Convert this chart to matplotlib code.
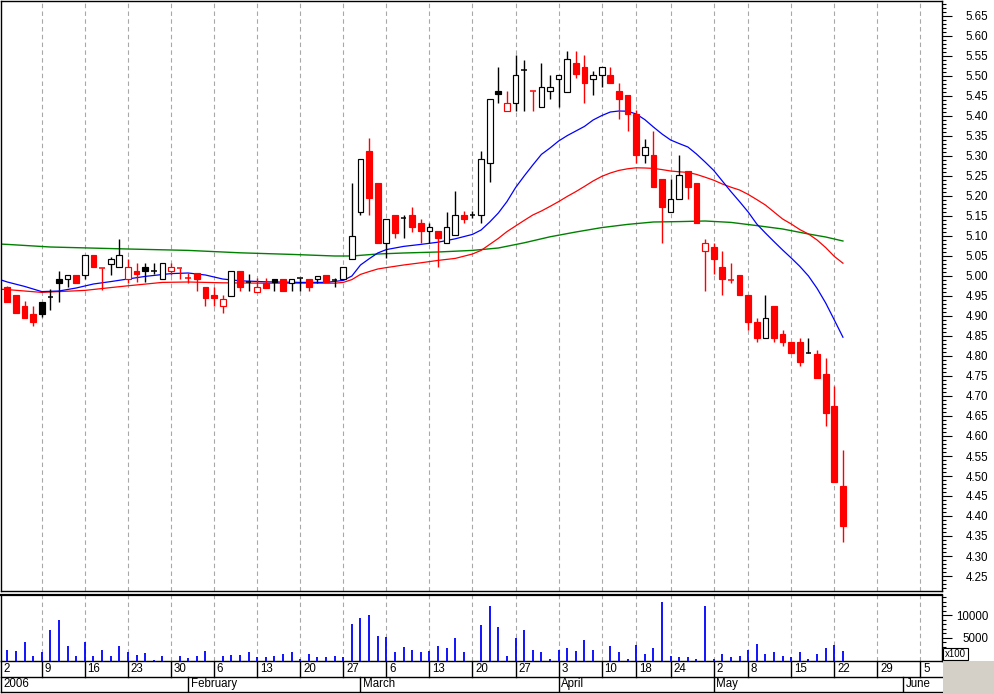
import numpy as np
import matplotlib
matplotlib.use("Agg")
import matplotlib.pyplot as plt
from matplotlib.patches import Rectangle
from matplotlib.ticker import MultipleLocator, FixedLocator, FormatStrFormatter

plt.rcParams['font.family'] = ['Liberation Sans', 'DejaVu Sans']
plt.rcParams['font.size'] = 8.3

# ---------------- data (trading-day index 0 = 3 Jan 2006 ... 97 = 23 May 2006) -------------
opens = [4.972, 4.952, 4.925, 4.905, 4.935, 4.947, 4.992, 4.992, 5.003, 5.002,
         5.053, 5.021, 5.031, 5.023, 4.992, 5.013, 5.022, 5.013, 4.992, 5.013,
         5.020, 4.994, 5.007, 4.972, 4.952, 4.925, 4.951, 5.0125, 4.986, 4.961,
         4.983, 4.992, 4.992, 4.982, 4.994, 4.992, 4.9925, 5.0025, 4.990, 4.992,
         5.042, 5.161, 5.3125, 5.233, 5.083, 5.1525, 5.144, 5.1525, 5.132, 5.112,
         5.1125, 5.083, 5.102, 5.1525, 5.1525, 5.1525, 5.282, 5.463, 5.4125, 5.433,
         5.515, 5.463, 5.422, 5.4625, 5.492, 5.461, 5.532, 5.522, 5.492, 5.502,
         5.503, 5.463, 5.4525, 5.405, 5.3025, 5.3025, 5.243, 5.161, 5.1925, 5.263,
         5.233, 5.062, 5.072, 5.022, 4.990, 5.0025, 4.9525, 4.885, 4.844, 4.925,
         4.855, 4.835, 4.835, 4.807, 4.805, 4.755, 4.675, 4.475]
highs = [4.975, 4.952, 4.937, 4.925, 4.935, 4.967, 5.013, 5.002, 5.003, 5.052,
         5.053, 5.021, 5.048, 5.092, 5.042, 5.032, 5.032, 5.032, 5.032, 5.032,
         5.020, 5.007, 5.007, 4.972, 4.972, 4.952, 5.0125, 5.0125, 5.004, 4.994,
         4.994, 4.992, 4.992, 4.992, 4.994, 4.992, 5.001, 5.0025, 4.994, 5.022,
         5.233, 5.292, 5.344, 5.233, 5.142, 5.1525, 5.1525, 5.172, 5.142, 5.132,
         5.1125, 5.161, 5.2125, 5.163, 5.163, 5.3125, 5.442, 5.523, 5.4625, 5.5525,
         5.540, 5.463, 5.533, 5.5025, 5.502, 5.563, 5.563, 5.5525, 5.5125, 5.522,
         5.522, 5.483, 5.4525, 5.415, 5.342, 5.363, 5.243, 5.243, 5.3025, 5.263,
         5.233, 5.092, 5.082, 5.062, 5.032, 5.0025, 4.9525, 4.894, 4.9525, 4.925,
         4.865, 4.835, 4.844, 4.844, 4.815, 4.794, 4.725, 4.565]
lows = [4.934, 4.907, 4.896, 4.876, 4.897, 4.915, 4.936, 4.973, 4.983, 4.992,
        5.023, 4.965, 5.002, 5.023, 4.982, 4.986, 4.984, 5.004, 4.992, 5.002,
        4.993, 4.982, 4.963, 4.925, 4.925, 4.907, 4.951, 4.963, 4.963, 4.961,
        4.971, 4.963, 4.963, 4.963, 4.963, 4.963, 4.983, 4.984, 4.973, 4.992,
        5.042, 5.1525, 5.1525, 5.083, 5.044, 5.094, 5.094, 5.111, 5.083, 5.083,
        5.023, 5.083, 5.102, 5.133, 5.144, 5.133, 5.234, 5.433, 5.4125, 5.4125,
        5.413, 5.413, 5.422, 5.4425, 5.423, 5.461, 5.494, 5.433, 5.4525, 5.473,
        5.483, 5.3925, 5.363, 5.283, 5.283, 5.223, 5.083, 5.161, 5.1925, 5.1925,
        5.133, 4.963, 5.004, 4.953, 4.983, 4.953, 4.865, 4.836, 4.844, 4.836,
        4.825, 4.807, 4.775, 4.807, 4.746, 4.625, 4.486, 4.336]
closes = [4.936, 4.907, 4.896, 4.886, 4.906, 4.947, 4.983, 5.002, 4.983, 5.052,
          5.023, 5.021, 5.042, 5.052, 5.022, 5.004, 5.013, 5.013, 5.032, 5.022,
          5.020, 4.994, 4.9925, 4.946, 4.944, 4.942, 5.0125, 4.973, 4.986, 4.972,
          4.971, 4.984, 4.963, 4.992, 4.994, 4.973, 5.001, 4.984, 4.990, 5.022,
          5.101, 5.292, 5.194, 5.083, 5.142, 5.107, 5.144, 5.123, 5.113, 5.122,
          5.094, 5.122, 5.152, 5.1425, 5.1525, 5.292, 5.442, 5.454, 5.433, 5.5025,
          5.515, 5.463, 5.472, 5.472, 5.502, 5.542, 5.504, 5.483, 5.502, 5.522,
          5.483, 5.4425, 5.404, 5.3025, 5.322, 5.223, 5.173, 5.1925, 5.2525, 5.223,
          5.133, 5.082, 5.043, 4.993, 4.990, 4.953, 4.886, 4.844, 4.894, 4.844,
          4.836, 4.807, 4.786, 4.807, 4.746, 4.657, 4.486, 4.376]
volume_x100 = [2440, 2000, 4000, 1110, 1850, 6670, 9100, 3330, 890, 4000,
               890, 2440, 1110, 3110, 1850, 1330, 1630, 220, 1000, 0,
               1000, 600, 1000, 2100, 0, 1000, 1330, 1260, 1780, 670,
               670, 890, 1550, 1780, 440, 1550, 670, 670, 890, 670,
               8000, 9550, 10200, 5550, 5330, 1780, 2890, 2440, 1780, 2220,
               3330, 2670, 4890, 1850, 0, 7780, 12000, 7550, 1110, 4950,
               6880, 2440, 1850, 440, 2290, 2670, 2220, 4660, 2440, 0,
               3110, 1850, 440, 3400, 1400, 2670, 12900, 890, 670, 670,
               440, 12200, 440, 1400, 670, 1110, 2440, 3620, 1400, 1780,
               890, 670, 1780, 440, 1400, 2670, 3550, 2220]

ma_blue_idx = [-1, 0, 2, 4, 6, 8, 10, 12, 14, 16, 19, 21, 23, 25, 27, 30, 34, 37, 39,
               40, 41, 42, 43, 44, 46, 48, 50, 52, 54, 55, 56, 57, 58, 59, 60, 61, 62,
               63, 64, 65, 66, 67, 68, 69, 70, 71, 72, 73, 74, 75, 76, 77, 78, 79, 80,
               81, 82, 83, 84, 85, 86, 87, 88, 89, 90, 91, 92, 93, 94, 95, 96, 97]
ma_blue = [4.992, 4.985, 4.974, 4.961, 4.9625, 4.970, 4.980, 4.986, 4.9925, 4.999,
           5.006, 5.0075, 5.0025, 4.9925, 4.988, 4.9855, 4.984, 4.984, 4.989,
           5.000, 5.0275, 5.043, 5.0575, 5.066, 5.074, 5.079, 5.0845, 5.093, 5.104,
           5.115, 5.135, 5.1575, 5.186, 5.221, 5.250, 5.2775, 5.304, 5.320, 5.3375,
           5.351, 5.3625, 5.374, 5.390, 5.401, 5.410, 5.4125, 5.412, 5.405, 5.391,
           5.3725, 5.355, 5.340, 5.331, 5.3225, 5.305, 5.285, 5.264, 5.2375, 5.211,
           5.186, 5.160, 5.130, 5.1075, 5.086, 5.065, 5.045, 5.024, 5.000, 4.969,
           4.9325, 4.890, 4.847]

ma_red_idx = [-1, 0, 4, 9, 12, 14, 18, 21, 25, 30, 38, 39, 40, 41, 42, 43, 44, 46, 48,
              50, 52, 54, 55, 56, 57, 58, 59, 60, 61, 62, 63, 64, 65, 66, 67, 68, 69,
              70, 71, 72, 73, 74, 75, 76, 77, 78, 79, 80, 81, 82, 83, 84, 85, 86, 87,
              88, 89, 90, 91, 92, 93, 94, 95, 96, 97]
ma_red = [4.967, 4.966, 4.959, 4.964, 4.971, 4.9755, 4.984, 4.985, 4.983, 4.982,
          4.982, 4.984, 4.991, 5.004, 5.011, 5.0175, 5.021, 5.0275, 5.033, 5.039,
          5.044, 5.055, 5.064, 5.079, 5.094, 5.111, 5.125, 5.139, 5.1525, 5.1625,
          5.174, 5.186, 5.199, 5.211, 5.224, 5.2375, 5.249, 5.2575, 5.264, 5.268,
          5.2705, 5.270, 5.269, 5.266, 5.2625, 5.2605, 5.259, 5.254, 5.247, 5.2395,
          5.230, 5.222, 5.215, 5.204, 5.191, 5.1775, 5.160, 5.1425, 5.130, 5.116,
          5.105, 5.090, 5.071, 5.049, 5.032]

ma_green_idx = [-1, 0, 5, 14, 21, 27, 33, 38, 40, 43, 46, 50, 54, 57, 60, 63, 66, 69,
                72, 75, 78, 81, 84, 87, 90, 93, 95, 97]
ma_green = [5.080, 5.079, 5.0725, 5.0675, 5.064, 5.058, 5.054, 5.050, 5.050, 5.055,
            5.0575, 5.060, 5.064, 5.070, 5.083, 5.098, 5.110, 5.121, 5.129, 5.135,
            5.136, 5.1375, 5.134, 5.126, 5.1175, 5.105, 5.0975, 5.0875]

week_tick_idx = [-1, 4, 9, 14, 19, 24, 29, 34, 39, 44, 49, 54, 59, 64, 69, 73, 77,
                 82, 86, 91, 96, 101, 106]
week_tick_labels = ['2', '9', '16', '23', '30', '6', '13', '20', '27', '6', '13', '20',
                    '27', '3', '10', '18', '24', '2', '8', '15', '22', '29', '5']
month_idx = [-1, 21, 41, 64, 82, 104]
month_labels = ['2006', 'February', 'March', 'April', 'May', 'June']

# ---------------- layout ----------------
W, H = 995, 694
fig = plt.figure(figsize=(W / 100, H / 100), dpi=100)
fig.patch.set_facecolor('white')


def box(x0, y0, x1, y1):
    return [x0 / W, 1 - y1 / H, (x1 - x0) / W, (y1 - y0) / H]


ax = fig.add_axes(box(1, 1, 942, 591))
axv = fig.add_axes(box(1, 595, 942, 660.5))
axd = fig.add_axes(box(1, 660.5, 942, 692))

XL = (-0.73, 108.5)
GRID_C = '#a8a8a8'

# ---------------- price panel ----------------
n = len(closes)
w = 0.66
prev_close = [opens[0]] + closes[:-1]
for i in range(n):
    o, h, l, c = opens[i], highs[i], lows[i], closes[i]
    col = 'black' if c >= prev_close[i] else '#ff0000'
    ax.vlines(i, l, h, color=col, lw=1.0, zorder=3)
    if c > o:
        ax.add_patch(Rectangle((i - w / 2, o), w, c - o, facecolor='white',
                               edgecolor=col, lw=0.85, zorder=4))
    elif c < o:
        ax.add_patch(Rectangle((i - w / 2, c), w, o - c, facecolor=col,
                               edgecolor=col, lw=0.85, zorder=4))
    else:
        ax.hlines(c, i - w / 2, i + w / 2, color=col, lw=1.1, zorder=4)

ax.plot(ma_green_idx, ma_green, color='#008000', lw=1.0, zorder=2)
ax.plot(ma_red_idx, ma_red, color='#ff0000', lw=0.9, zorder=2)
ax.plot(ma_blue_idx, ma_blue, color='#0000ff', lw=0.9, zorder=2)

for t in week_tick_idx:
    ax.axvline(t, color=GRID_C, lw=0.8, ls=(0, (4, 3)), zorder=1)
    axv.axvline(t, color=GRID_C, lw=0.8, ls=(0, (4, 3)), zorder=1)

ax.set_xlim(*XL)
ax.set_ylim(4.2125, 5.6875)
ax.set_xticks([])
ax.yaxis.tick_right()
ax.yaxis.set_major_locator(MultipleLocator(0.05))
ax.yaxis.set_minor_locator(MultipleLocator(0.01))
ax.yaxis.set_major_formatter(FormatStrFormatter('%.2f'))
ax.tick_params(axis='y', which='major', direction='out', length=7.4, width=0.8,
               pad=26, labelsize=8.3, colors='black')
ax.tick_params(axis='y', which='minor', direction='out', length=2.6, width=0.8)
for tk in ax.yaxis.get_major_ticks():
    tk.label2.set_horizontalalignment('right')
for s in ax.spines.values():
    s.set_linewidth(1.0)

# ---------------- volume panel ----------------
axv.vlines(np.arange(n), 0, volume_x100, color='#0000ff', lw=1.3, zorder=3)
axv.set_xlim(*XL)
axv.set_ylim(0, 14550)
axv.set_xticks([])
axv.yaxis.tick_right()
axv.yaxis.set_major_locator(FixedLocator([5000, 10000]))
axv.yaxis.set_minor_locator(MultipleLocator(1000))
axv.yaxis.set_major_formatter(FormatStrFormatter('%d'))
axv.tick_params(axis='y', which='major', direction='out', length=7.4, width=0.8,
                pad=26, labelsize=8.3)
axv.tick_params(axis='y', which='minor', direction='out', length=2.6, width=0.8)
for tk in axv.yaxis.get_major_ticks():
    tk.label2.set_horizontalalignment('right')
axv.spines['top'].set_linewidth(1.6)
for k in ('left', 'right', 'bottom'):
    axv.spines[k].set_linewidth(1.0)

# ---------------- date band ----------------
axd.set_xlim(*XL)
axd.set_ylim(0, 31.5)
axd.axis('off')
axd.plot(XL, [15.5, 15.5], color='black', lw=1.0, clip_on=False)
axd.plot(XL, [0.3, 0.3], color='black', lw=1.0, clip_on=False)
axd.plot([XL[0], XL[0]], [0.3, 31.5], color='black', lw=1.0, clip_on=False)
for t, lab in zip(week_tick_idx, week_tick_labels):
    if t >= XL[0]:
        axd.plot([t, t], [15.5, 31.5], color='black', lw=1.0)
    axd.annotate(lab, xy=(max(t, XL[0]), 23.3), xytext=(2.0, 0),
                 textcoords='offset points', ha='left', va='center', fontsize=8.3)
for t, lab in zip(month_idx, month_labels):
    if t >= XL[0]:
        axd.plot([t, t], [0.3, 15.5], color='black', lw=1.0)
    axd.annotate(lab, xy=(max(t, XL[0]), 7.6), xytext=(2.0, 0),
                 textcoords='offset points', ha='left', va='center', fontsize=8.3)

# gray corner and x100 box
fig.patches.append(Rectangle((943 / W, 0), (W - 943) / W, (H - 661) / H,
                             transform=fig.transFigure, facecolor='#d4d0c8',
                             edgecolor='none', zorder=0))
fig.patches.append(Rectangle((943 / W, 1 - 660 / H), 25 / W, 12 / H,
                             transform=fig.transFigure, facecolor='white',
                             edgecolor='black', lw=0.8, zorder=5))
fig.text(955.5 / W, 1 - 654 / H, 'x100', ha='center', va='center', fontsize=7,
         zorder=10)

fig.savefig('out.png', dpi=100)
